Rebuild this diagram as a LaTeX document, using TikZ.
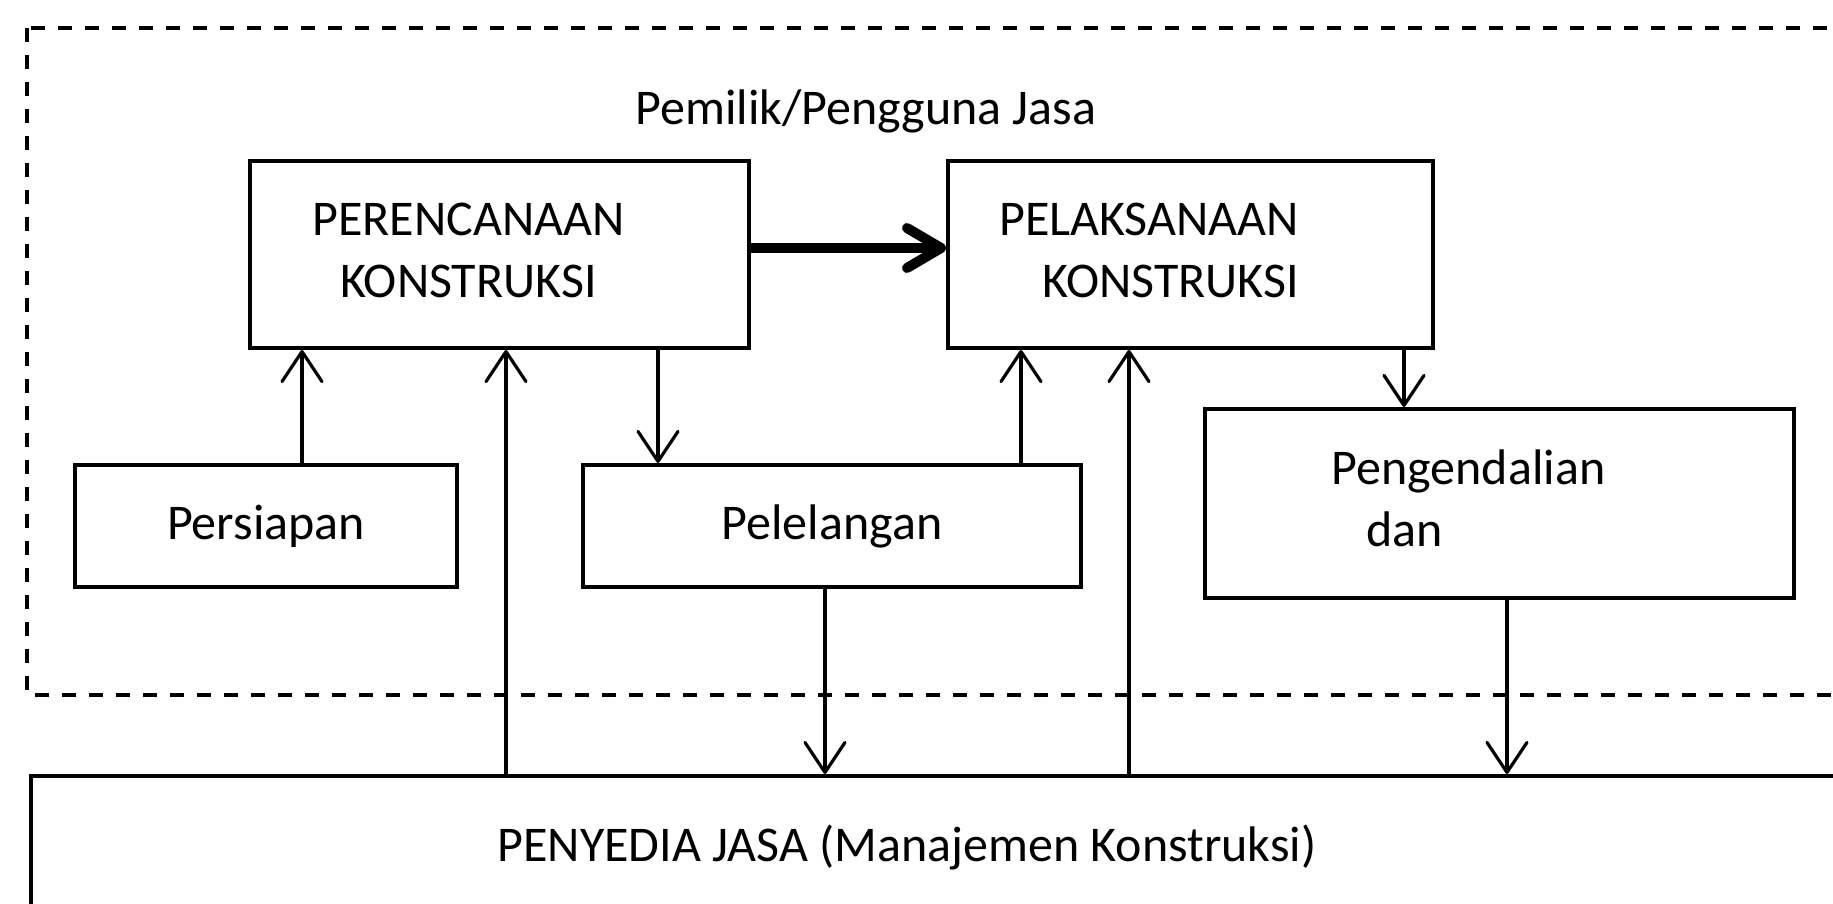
\documentclass[tikz,border=0pt]{standalone}
\usepackage{fontspec}
\setmainfont{Carlito}
\usetikzlibrary{arrows.meta}

\begin{document}
\begin{tikzpicture}
[every node/.style={inner sep=0pt, font=\fontsize{25}{31}\selectfont},
 kotak/.style={draw=black, line width=2pt, align=center},
 panah/.style={line width=1.6pt, -{Straight Barb[length=15pt, width=20pt, round]}},
 panahtebal/.style={line width=5pt, -{Straight Barb[length=17pt, width=20pt, round]}}]
\useasboundingbox (0pt, 0pt) rectangle (916.5pt, -452pt);
\clip (0pt, 0pt) rectangle (916.5pt, -452pt);
\draw [line width=2pt, dash pattern=on 7pt off 6.5pt] (13.5pt, -14pt) rectangle (940pt, -347.5pt);
\node (pemilik) [anchor=base] at (433pt, -62.5pt) {Pemilik/Pengguna Jasa};
\node (perencanaan) [kotak, minimum width=249.5pt, minimum height=93.5pt] at (249.75pt, -127.25pt) {\raisebox{-5.5pt}{\begin{tabular}{@{}c@{\hspace{31pt}}}PERENCANAAN\\KONSTRUKSI\end{tabular}}};
\node (pelaksanaan) [kotak, minimum width=242.5pt, minimum height=93.5pt] at (595.25pt, -127.25pt) {\raisebox{-5.5pt}{\begin{tabular}{@{}r@{\hspace{41.5pt}}}PELAKSANAAN\\KONSTRUKSI\end{tabular}}};
\node (persiapan) [kotak, minimum width=191pt, minimum height=61pt] at (133pt, -263pt) {\raisebox{-3.9pt}{Persiapan}};
\node (pelelangan) [kotak, minimum width=249pt, minimum height=61pt] at (416pt, -263pt) {\raisebox{-3.9pt}{Pelelangan}};
\node (pengendalian) [kotak, minimum width=294.5pt, minimum height=94.5pt] at (749.75pt, -251.75pt) {\raisebox{-4.5pt}{\begin{tabular}{@{}l@{\hspace{31pt}}}Pengendalian\\\hspace{17.5pt}dan\end{tabular}}};
\node (penyedia) [kotak, anchor=north west, minimum width=930pt, minimum height=100pt] at (14.5pt, -387pt) {};
\node (penyediateks) [anchor=base] at (453.5pt, -430.8pt) {PENYEDIA JASA (Manajemen Konstruksi)};
\draw [panahtebal] (perencanaan.east |- 0pt,-124pt) to (pelaksanaan.west |- 0pt,-124pt);
\draw [panah] (persiapan.north -| 151pt,0pt) to (perencanaan.south -| 151pt,0pt);
\draw [panah] (penyedia.north -| 253pt,0pt) to (perencanaan.south -| 253pt,0pt);
\draw [panah] (perencanaan.south -| 329pt,0pt) to (pelelangan.north -| 329pt,0pt);
\draw [panah] (pelelangan.north -| 510.5pt,0pt) to (pelaksanaan.south -| 510.5pt,0pt);
\draw [panah] (penyedia.north -| 564.5pt,0pt) to (pelaksanaan.south -| 564.5pt,0pt);
\draw [panah] (pelaksanaan.south -| 702pt,0pt) to (pengendalian.north -| 702pt,0pt);
\draw [panah] (pelelangan.south -| 412.5pt,0pt) to (penyedia.north -| 412.5pt,0pt);
\draw [panah] (pengendalian.south -| 753.5pt,0pt) to (penyedia.north -| 753.5pt,0pt);
\end{tikzpicture}
\end{document}
